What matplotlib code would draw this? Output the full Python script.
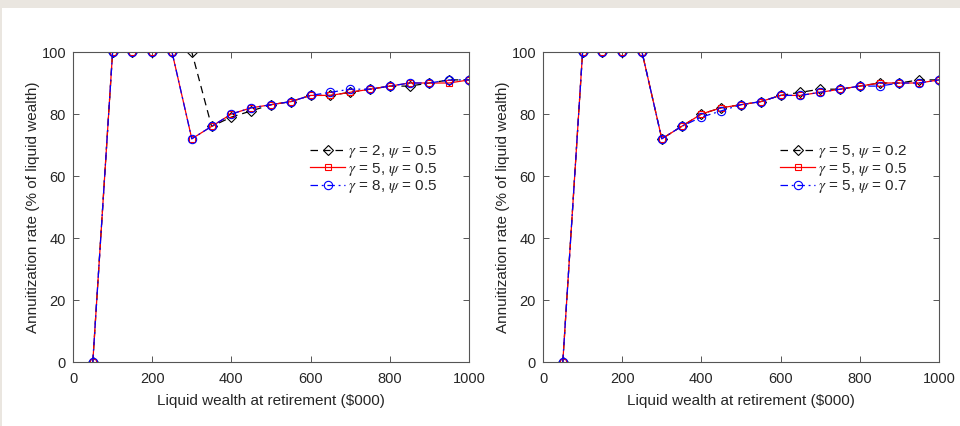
import matplotlib.pyplot as plt
from matplotlib.patches import Rectangle

wealth = [50, 100, 150, 200, 250, 300, 350, 400, 450, 500,
          550, 600, 650, 700, 750, 800, 850, 900, 950, 1000]

# left panel: varying gamma, psi = 0.5
g2_p05 = [0, 100, 100, 100, 100, 100, 76, 79, 81, 83, 84, 86, 86, 87, 88, 89, 89, 90, 91, 91]
g5_p05 = [0, 100, 100, 100, 100, 72, 76, 80, 82, 83, 84, 86, 86, 87, 88, 89, 90, 90, 90, 91]
g8_p05 = [0, 100, 100, 100, 100, 72, 76, 80, 82, 83, 84, 86, 87, 88, 88, 89, 90, 90, 91, 91]

# right panel: gamma = 5, varying psi
g5_p02 = [0, 100, 100, 100, 100, 72, 76, 80, 82, 83, 84, 86, 87, 88, 88, 89, 90, 90, 91, 91]
g5_p07 = [0, 100, 100, 100, 100, 72, 76, 79, 81, 83, 84, 86, 86, 87, 88, 89, 89, 90, 90, 91]

left_labels = [r"$\gamma$ = 2, $\psi$ = 0.5", r"$\gamma$ = 5, $\psi$ = 0.5", r"$\gamma$ = 8, $\psi$ = 0.5"]
right_labels = [r"$\gamma$ = 5, $\psi$ = 0.2", r"$\gamma$ = 5, $\psi$ = 0.5", r"$\gamma$ = 5, $\psi$ = 0.7"]

xticks = [0, 200, 400, 600, 800, 1000]
yticks = [0, 20, 40, 60, 80, 100]

plt.rcParams["font.family"] = ["Liberation Sans", "DejaVu Sans"]
plt.rcParams["mathtext.fontset"] = "stix"

TXT = "#262626"
AX = "#555555"


def panel(ax, series, labels):
    styles = [
        dict(color="black", ls=(0, (6, 4)), marker="D", ms=5.5),
        dict(color="red", ls="-", marker="s", ms=5),
        dict(color="blue", ls=(0, (6, 3, 1.5, 3)), marker="o", ms=6),
    ]
    for ys, lab, st in zip(series, labels, styles):
        ax.plot(wealth, ys, color=st["color"], ls=st["ls"], lw=0.9,
                marker=st["marker"], ms=st["ms"], mfc="none",
                mec=st["color"], mew=0.8, label=lab)
    ax.set_xlim(0, 1000)
    ax.set_ylim(0, 100)
    ax.set_xticks(xticks)
    ax.set_yticks(yticks)
    ax.tick_params(direction="in", top=True, right=True, length=4,
                   width=0.7, color=AX, labelcolor=TXT, labelsize=10.5)
    ax.tick_params(axis="x", pad=7)
    ax.tick_params(axis="y", pad=5)
    for s in ax.spines.values():
        s.set_color(AX)
        s.set_linewidth(0.8)
    ax.set_xlabel("Liquid wealth at retirement ($000)", fontsize=11, color=TXT, labelpad=6)
    ax.set_ylabel("Annuitization rate (% of liquid wealth)", fontsize=11, color=TXT, labelpad=1)
    leg = ax.legend(loc="upper left", bbox_to_anchor=(0.58, 0.73), frameon=False,
                    fontsize=11, handlelength=2.3, handletextpad=0.15,
                    labelspacing=0.03, borderpad=0)
    for t in leg.get_texts():
        t.set_color(TXT)


fig = plt.figure(figsize=(9.6, 4.26), dpi=100)
fig.patch.set_facecolor("#EAE6E0")
fig.add_artist(Rectangle((2 / 960, 0), 1, 1 - 8 / 426, transform=fig.transFigure,
                         facecolor="white", edgecolor="none", zorder=-10))

ax1 = fig.add_axes([73 / 960, 1 - 362 / 426, 396 / 960, 310 / 426])
ax2 = fig.add_axes([543 / 960, 1 - 362 / 426, 396 / 960, 310 / 426])

panel(ax1, [g2_p05, g5_p05, g8_p05], left_labels)
panel(ax2, [g5_p02, g5_p05, g5_p07], right_labels)

fig.savefig("out.png", dpi=100, facecolor=fig.get_facecolor())
